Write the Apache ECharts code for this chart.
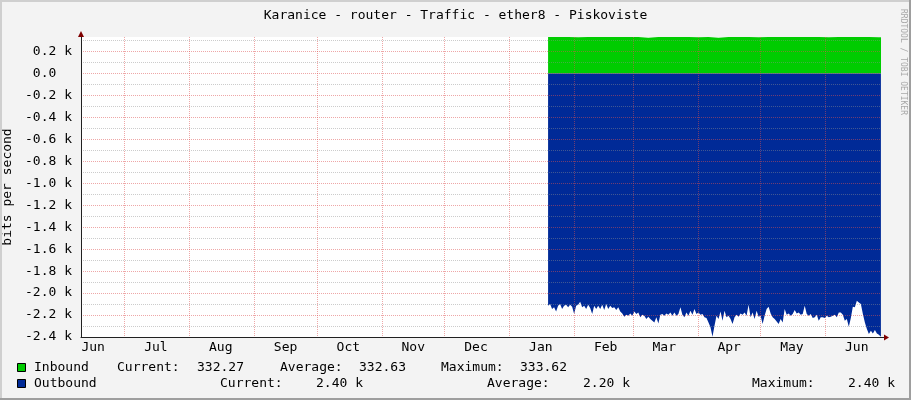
<!DOCTYPE html>
<html>
<head>
<meta charset="utf-8">
<script src="https://cdn.jsdelivr.net/npm/echarts@6/dist/echarts.min.js"></script>
<style>
html,body{margin:0;padding:0;background:#f3f3f3;}
#c{width:911px;height:400px;}
</style>
</head>
<body>
<div id="c"></div>
<script>
// ---------- data ----------
const chartTitle = 'Karanice - router - Traffic - ether8 - Piskoviste';
const yAxisName = 'bits per second';
const seriesNames = ['Inbound', 'Outbound'];
const seriesColors = ['#00CC00', '#002A97'];

// x range (UTC)
const xStart = Date.UTC(2022, 5, 10, 5);
const xEnd = Date.UTC(2023, 5, 27, 14);

// month boundaries (vertical grid) and month labels (mid-month)
const monthStarts = [
  [2022, 6], [2022, 7], [2022, 8], [2022, 9], [2022, 10], [2022, 11],
  [2023, 0], [2023, 1], [2023, 2], [2023, 3], [2023, 4], [2023, 5]
];
const monthLabelDates = [
  [2022, 5], [2022, 6], [2022, 7], [2022, 8], [2022, 9], [2022, 10], [2022, 11],
  [2023, 0], [2023, 1], [2023, 2], [2023, 3], [2023, 4], [2023, 5]
];
const monthLabels = ['Jun', 'Jul', 'Aug', 'Sep', 'Oct', 'Nov', 'Dec', 'Jan', 'Feb', 'Mar', 'Apr', 'May', 'Jun'];

// y axis
const yMin = -2400;
const yMax = 333.62;

// samples: first sample time and sample step
const sampleStart = Date.UTC(2023, 0, 19, 11);
const outboundStepHours = 23;
const inboundStepHours = 115;

// Outbound traffic (bits/s, drawn negative)
const outbound = [
  2115,2100,2145,2130,2167,2115,2100,2145,2115,2106,
  2130,2106,2124,2191,2115,2106,2079,2130,2115,2145,
  2106,2136,2191,2115,2145,2115,2145,2106,2155,2100,
  2145,2115,2136,2130,2155,2130,2167,2185,2215,2197,
  2206,2185,2206,2167,2191,2176,2221,2197,2206,2236,
  2215,
  2236,2252,2267,2221,2276,2197,2191,2206,2185,2197,
  2176,2206,2176,2206,2191,2130,2197,2221,2176,2206,
  2161,2197,2145,2191,2176,2197,2191,2221,2227,2267,
  2312,2397,2297,2206,2236,2167,2252,2161,2221,2206,
  2236,2282,2221,2197,2215,2185,2197,2176,2206,2106,
  2221,2176,2236,2161,2215,2206,2282,
  2206,2145,2124,2185,2221,2236,2258,2282,2236,2267,
  2145,2197,2185,2206,2191,2155,2185,2176,2197,2191,
  2115,2191,2206,2191,2227,2221,2197,2252,2221,2221,
  2227,2206,2221,2215,2206,2197,2221,2176,2176,2197,
  2252,2236,2306,2227,2124,2130,2070,2085,2100,2191,
  2267,2327,2373,2342,2367,2336,2367,2379,2398
];

// Inbound traffic (bits/s)
const inbound = [
  332.6,332.9,333.1,332.4,332.8,333.3,332.5,332.7,333.0,332.6,
  326.0,332.8,333.2,332.5,332.9,332.4,333.1,326.5,332.7,333.0,
  332.6,332.3,332.8,333.6,332.5,332.9,332.7,333.1,332.4,332.6,
  332.8,333.0,332.5,332.3,332.27
];

// legend statistics text
const legendStats = [
  { label: seriesNames[0], cur: '332.27', avg: '332.63', max: '333.62' },
  { label: seriesNames[1], cur: '2.40 k', avg: '2.20 k', max: '2.40 k' }
];

// ---------- build ----------
const H = 3600 * 1000;
const outData = outbound.map((v, i) => [sampleStart + i * outboundStepHours * H, -v]);
const inData = inbound.map((v, i) => [sampleStart + i * inboundStepHours * H, v]);
const gridTicks = monthStarts.map(d => Date.UTC(d[0], d[1], 1));
const labelTicks = monthLabelDates.map(d => Date.UTC(d[0], d[1], 16));

const FONT = 'DejaVu Sans Mono';
const MGRID = 'rgba(222,79,79,0.5)';
const GRID = 'rgba(143,143,143,0.45)';

const G = { left: 81, top: 37, width: 800, height: 300 };

function yLabel(v) {
  if (Math.abs(v % 200) > 1e-6) return '';
  if (v === 0) return '0.0  ';
  return (v / 1000).toFixed(1) + ' k';
}

const txt = (x, y, s, extra) => Object.assign({
  type: 'text', x: x, y: y,
  style: { text: s, font: '13px "' + FONT + '"', fill: '#000', textVerticalAlign: 'middle' }
}, extra || {});

const legendGraphics = [];
const rowY = [368, 384];
const colX = [
  [117, 197, 280, 359, 441, 520],
  [220, 316, 487, 583, 752, 848]
];
legendStats.forEach((s, r) => {
  legendGraphics.push({
    type: 'rect', shape: { x: 17.5, y: rowY[r] - 4.5, width: 8, height: 8 },
    style: { fill: seriesColors[r], stroke: '#000', lineWidth: 1 }
  });
  legendGraphics.push(txt(34, rowY[r], s.label));
  const parts = ['Current:', s.cur, 'Average:', s.avg, 'Maximum:', s.max];
  parts.forEach((p, k) => legendGraphics.push(txt(colX[r][k], rowY[r], p)));
});

const chart = echarts.init(document.getElementById('c'), null, { renderer: 'canvas' });
chart.setOption({
  animation: false,
  backgroundColor: '#f3f3f3',
  title: {
    text: chartTitle, left: 'center', top: 4,
    textStyle: { fontFamily: FONT, fontSize: 13, fontWeight: 'normal', color: '#000' }
  },
  grid: Object.assign({ show: true, backgroundColor: '#ffffff', borderWidth: 0,
    containLabel: false, outerBoundsMode: 'none' }, G),
  xAxis: {
    type: 'value', min: xStart, max: xEnd, z: 5,
    axisLine: { onZero: false, lineStyle: { color: '#212121', width: 1 } },
    axisTick: { show: false, customValues: gridTicks },
    axisLabel: {
      customValues: labelTicks, margin: 4, color: '#000',
      fontFamily: FONT, fontSize: 13, hideOverlap: false,
      formatter: function (v) {
        let best = 0, bd = Infinity;
        labelTicks.forEach((t, i) => { const d = Math.abs(t - v); if (d < bd) { bd = d; best = i; } });
        return monthLabels[best];
      }
    },
    splitLine: { show: true, lineStyle: { color: MGRID, type: [1, 1], width: 1 } }
  },
  yAxis: {
    type: 'value', min: yMin, max: yMax, interval: 100, z: 5,
    name: yAxisName, nameLocation: 'middle', nameGap: 61, nameRotate: 90,
    nameTextStyle: { fontFamily: FONT, fontSize: 13, color: '#000' },
    axisLine: { show: true, lineStyle: { color: '#212121', width: 1 } },
    axisTick: { show: false },
    axisLabel: {
      margin: 9, color: '#000', fontFamily: FONT, fontSize: 13,
      showMaxLabel: false, formatter: yLabel
    },
    splitLine: {
      show: true, showMaxLine: false,
      lineStyle: { color: [MGRID, GRID], type: [1, 1], width: 1 }
    }
  },
  series: [
    {
      name: seriesNames[0], type: 'line', data: inData, showSymbol: false, symbol: 'none',
      lineStyle: { width: 0 }, areaStyle: { color: seriesColors[0], opacity: 1 },
      itemStyle: { color: seriesColors[0] }, z: 2
    },
    {
      name: seriesNames[1], type: 'line', data: outData, showSymbol: false, symbol: 'none',
      lineStyle: { width: 0 }, areaStyle: { color: seriesColors[1], opacity: 1 },
      itemStyle: { color: seriesColors[1] }, z: 2
    }
  ],
  graphic: [
    { type: 'rect', shape: { x: 0, y: 0, width: 911, height: 2 }, style: { fill: '#cfcfcf' }, z: 100 },
    { type: 'rect', shape: { x: 0, y: 0, width: 2, height: 400 }, style: { fill: '#cfcfcf' }, z: 100 },
    { type: 'rect', shape: { x: 909, y: 0, width: 2, height: 400 }, style: { fill: '#9e9e9e' }, z: 100 },
    { type: 'rect', shape: { x: 0, y: 398, width: 911, height: 2 }, style: { fill: '#9e9e9e' }, z: 100 },
    { type: 'line', shape: { x1: 881, y1: 337.5, x2: 885, y2: 337.5 }, style: { stroke: '#212121', lineWidth: 1 }, z: 100 },
    { type: 'polygon', shape: { points: [[884, 334.5], [889, 337.5], [884, 340.5]] }, style: { fill: '#800000' }, z: 100 },
    { type: 'polygon', shape: { points: [[78, 37], [81, 31], [84, 37]] }, style: { fill: '#800000' }, z: 100 },
    {
      type: 'text', x: 903, y: 62, rotation: -Math.PI / 2,
      style: { text: 'RRDTOOL / TOBI OETIKER', font: '8px "' + FONT + '"', fill: '#a8a8a8',
        textAlign: 'center', textVerticalAlign: 'middle' }, z: 100
    }
  ].concat(legendGraphics)
});
</script>
</body>
</html>
